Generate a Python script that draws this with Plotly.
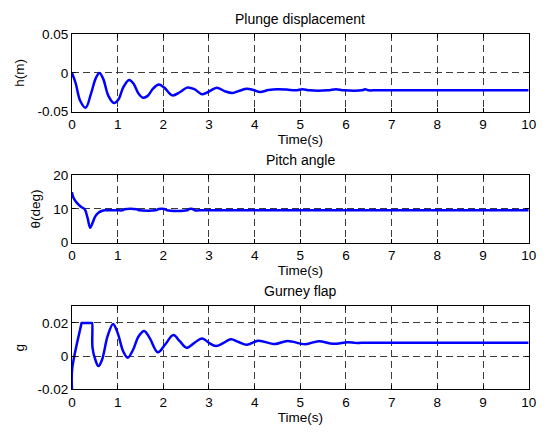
import plotly.graph_objects as go

# ---- plunge displacement h(t) [m] ----
t_h = [0.00, 0.08, 0.18, 0.30, 0.42, 0.52, 0.60, 0.68, 0.80, 0.92, 1.02, 1.12,
       1.25, 1.35, 1.45, 1.55, 1.65, 1.78, 1.90, 2.02, 2.20, 2.36, 2.52, 2.68,
       2.85, 3.00, 3.17, 3.34, 3.51, 3.67, 3.83, 3.97, 4.12, 4.30, 4.50, 4.70,
       4.90, 5.05, 5.20, 5.60, 5.78, 5.95, 6.35, 6.42, 6.50, 6.60, 10.00]
h_val = [0.000, -0.013, -0.036, -0.045, -0.026, -0.007, 0.000, -0.007, -0.030,
         -0.039, -0.034, -0.019, -0.009, -0.014, -0.026, -0.032, -0.030, -0.020,
         -0.015, -0.019, -0.029, -0.025, -0.019, -0.021, -0.0275, -0.024, -0.019,
         -0.0235, -0.026, -0.023, -0.0204, -0.022, -0.0246, -0.0222, -0.021,
         -0.0215, -0.0225, -0.021, -0.0225, -0.0225, -0.021, -0.0225, -0.0225,
         -0.0212, -0.0225, -0.0225, -0.0225]

# ---- pitch angle theta(t) [deg] ----
t_th = [0.00, 0.03, 0.08, 0.15, 0.22, 0.28, 0.34, 0.40, 0.45, 0.51, 0.58, 0.65,
        0.72, 1.00, 1.10, 1.15, 1.42, 1.48, 1.83, 1.90, 2.02, 2.08, 2.52, 2.57,
        2.64, 2.69, 2.80, 10.00]
th_val = [15.0, 13.4, 12.3, 11.2, 10.4, 9.9, 7.4, 4.4, 5.8, 7.8, 8.9, 9.4,
          9.6, 9.6, 9.6, 9.9, 9.9, 9.6, 9.6, 10.0, 10.0, 9.6, 9.6, 10.0,
          10.0, 9.6, 9.6, 9.6]

# ---- Gurney flap deflection g(t) ----
t_g = [0.000, 0.005, 0.20, 0.21, 0.22, 0.43, 0.44, 0.45, 0.51, 0.58, 0.66,
       0.78, 0.90, 1.00, 1.12, 1.22, 1.34, 1.46, 1.58, 1.70, 1.88, 2.04, 2.22,
       2.36, 2.51, 2.68, 2.85, 3.00, 3.15, 3.32, 3.48, 3.65, 3.83, 4.08, 4.44,
       4.72, 5.11, 5.40, 5.72, 6.04, 6.20, 6.35, 10.00]
g_val = [-0.020, -0.0075, 0.0187, 0.020, 0.020, 0.020, 0.020, 0.005, -0.002,
         -0.0060, -0.002, 0.012, 0.0194, 0.014, 0.003, -0.001, 0.004, 0.012,
         0.0152, 0.011, 0.0023, 0.007, 0.0127, 0.009, 0.0050, 0.008, 0.0107,
         0.008, 0.0061, 0.008, 0.0102, 0.0085, 0.0069, 0.0093, 0.0073, 0.0091,
         0.0072, 0.0090, 0.0074, 0.0084, 0.0080, 0.0080, 0.0080]

# axis ticks
x_ticks = list(range(0, 11))
y1_ticks, y1_text = [-0.05, 0, 0.05], ["-0.05", "0", "0.05"]
y2_ticks, y2_text = [0, 10, 20], ["0", "10", "20"]
y3_ticks, y3_text = [-0.02, 0, 0.02], ["-0.02", "0", "0.02"]

W, H = 545, 436
FONT = "Liberation Sans, Arial, sans-serif"
FS = 13.5
BLUE = "#0000ff"
GRID = "#3c3c3c"

x_dom = [69.5 / W, 536.5 / W]
doms = [(28.3, 108.3), (174.3, 244.0), (310.0, 396.0)]  # top/bottom pixel rows
y_doms = [[1 - b / H, 1 - t / H] for t, b in doms]

fig = go.Figure()
series = [(t_h, h_val), (t_th, th_val), (t_g, g_val)]
for i, (tx, ty) in enumerate(series):
    suffix = "" if i == 0 else str(i + 1)
    fig.add_trace(go.Scatter(
        x=tx, y=ty, mode="lines",
        line=dict(color=BLUE, width=2.5, shape="spline", smoothing=1.0),
        xaxis="x" + suffix, yaxis="y" + suffix, showlegend=False,
        hoverinfo="skip",
    ))

common_axis = dict(
    showline=True, linecolor="black", linewidth=1, mirror="ticks",
    ticks="inside", ticklen=4, tickcolor="black", tickwidth=1,
    showgrid=True, gridcolor=GRID, gridwidth=1, griddash="7px,4px",
    zeroline=False, tickfont=dict(family=FONT, size=FS, color="black"),
)

y_specs = [
    ([-0.05, 0.05], y1_ticks, y1_text, "h(m)"),
    ([0, 20], y2_ticks, y2_text, "θ(deg)"),
    ([-0.02, 0.03], y3_ticks, y3_text, "g"),
]
titles = ["Plunge displacement", "Pitch angle", "Gurney flap"]

layout = dict(
    width=W, height=H,
    margin=dict(l=0, r=0, t=0, b=0),
    paper_bgcolor="white", plot_bgcolor="white",
    showlegend=False,
    annotations=[],
)

for i in range(3):
    suffix = "" if i == 0 else str(i + 1)
    rng, tv, tt, lab = y_specs[i]
    layout["xaxis" + suffix] = dict(
        common_axis, domain=x_dom, range=[0, 10], tickvals=x_ticks,
        ticktext=[str(v) for v in x_ticks], anchor="y" + suffix,
        title=dict(text="Time(s)", font=dict(family=FONT, size=FS, color="black"),
                   standoff=3),
    )
    layout["yaxis" + suffix] = dict(
        common_axis, domain=y_doms[i], range=rng, tickvals=tv, ticktext=tt,
        anchor="x" + suffix,
        title=dict(text=lab, font=dict(family=FONT, size=FS, color="black"),
                   standoff=9),
    )
    layout["annotations"].append(dict(
        text=titles[i], xref="paper", yref="paper",
        x=(x_dom[0] + x_dom[1]) / 2, y=y_doms[i][1],
        xanchor="center", yanchor="bottom", yshift=5, showarrow=False,
        font=dict(family=FONT, size=14, color="black"),
    ))

fig.update_layout(**layout)
fig.write_html("out.html")
